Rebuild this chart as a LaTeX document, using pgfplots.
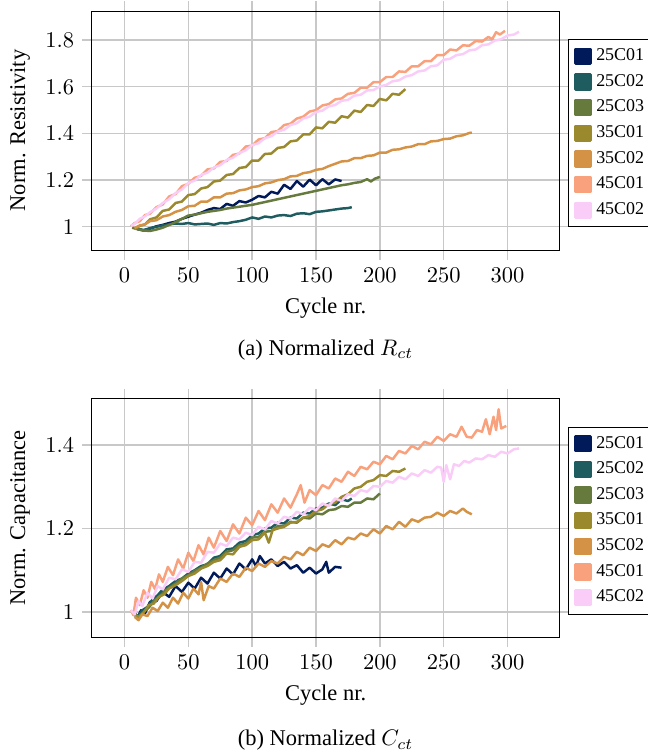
\documentclass[border=0pt]{standalone}
\usepackage{fontspec}
\setmainfont{Liberation Serif}
\usepackage{pgfplots}
\pgfplotsset{compat=1.18}

\definecolor{cA}{RGB}{1,27,90}
\definecolor{cB}{RGB}{30,92,96}
\definecolor{cC}{RGB}{102,122,62}
\definecolor{cD}{RGB}{155,137,46}
\definecolor{cE}{RGB}{212,146,70}
\definecolor{cF}{RGB}{249,161,124}
\definecolor{cG}{RGB}{249,205,248}
\definecolor{gridc}{RGB}{200,200,200}

\pgfplotsset{
  cyc/.style={
    scale only axis, width=208pt, height=106.4pt,
    xmin=-25.5, xmax=340.5,
    xtick={0,50,100,150,200,250,300},
    grid=major, major grid style={gridc, line width=0.6pt},
    tick align=outside, major tick length=4.4pt,
    major tick style={gridc, line width=0.6pt},
    xlabel={Cycle nr.},
    legend style={at={(1.019,0.882)}, anchor=north west, font=\footnotesize,
      draw=black, fill=white, row sep=0.6pt, inner xsep=2.5pt},
    legend cell align=left,
    legend image code/.code={\fill[##1] (0pt,-3.3pt) rectangle (6.7pt,3.3pt);},
    every axis plot/.append style={line width=1.1pt, line join=round, mark=none},
  }
}

\begin{document}
\begin{tikzpicture}
\begin{axis}[cyc, name=top, at={(0,0)}, anchor=north west,
  ymin=0.9, ymax=1.925, ytick={1,1.2,1.4,1.6,1.8},
  ylabel={Norm. Resistivity}]
\addplot[color=cA] coordinates {(10,0.990)(15,0.984)(20,0.992)(25,1.002)(30,1.008)(35,1.016)(40,1.022)(45,1.034)(50,1.043)(55,1.052)(60,1.060)(65,1.072)(70,1.080)(75,1.076)(80,1.098)(85,1.090)(90,1.110)(95,1.104)(100,1.116)(105,1.132)(110,1.126)(115,1.150)(120,1.142)(125,1.180)(130,1.162)(135,1.196)(140,1.172)(145,1.202)(150,1.178)(155,1.204)(160,1.182)(165,1.203)(170,1.196)};
\addlegendentry{25C01}
\addplot[color=cB] coordinates {(10,0.992)(15,0.986)(20,0.994)(25,1.000)(30,1.006)(35,1.010)(40,1.014)(45,1.012)(50,1.016)(55,1.010)(60,1.012)(65,1.014)(70,1.008)(75,1.016)(80,1.014)(85,1.020)(90,1.024)(95,1.030)(100,1.040)(105,1.034)(110,1.044)(115,1.040)(120,1.048)(125,1.050)(130,1.046)(135,1.056)(140,1.058)(145,1.054)(150,1.064)(155,1.066)(160,1.070)(165,1.074)(170,1.078)(175,1.080)(178,1.084)};
\addlegendentry{25C02}
\addplot[color=cC] coordinates {(6,0.996)(10,0.990)(15,0.984)(20,0.982)(25,0.988)(30,0.996)(35,1.008)(40,1.020)(45,1.034)(50,1.048)(55,1.052)(60,1.058)(65,1.064)(70,1.068)(75,1.072)(80,1.078)(85,1.082)(90,1.086)(95,1.090)(100,1.094)(105,1.100)(110,1.106)(115,1.112)(120,1.118)(125,1.124)(130,1.130)(135,1.136)(140,1.142)(145,1.148)(150,1.154)(155,1.160)(160,1.166)(165,1.172)(170,1.178)(175,1.182)(180,1.188)(185,1.192)(190,1.204)(193,1.194)(196,1.206)(200,1.214)};
\addlegendentry{25C03}
\addplot[color=cD] coordinates {(8,0.990)(12,1.004)(16,1.010)(20,1.032)(25,1.040)(30,1.068)(35,1.074)(40,1.102)(45,1.108)(50,1.136)(55,1.140)(60,1.164)(65,1.170)(70,1.194)(75,1.198)(80,1.222)(85,1.226)(90,1.252)(95,1.256)(100,1.284)(105,1.284)(110,1.312)(115,1.314)(120,1.338)(125,1.342)(130,1.366)(135,1.370)(140,1.396)(145,1.396)(150,1.426)(155,1.422)(160,1.450)(165,1.446)(170,1.474)(175,1.468)(180,1.498)(185,1.492)(190,1.522)(195,1.518)(200,1.548)(205,1.542)(210,1.570)(215,1.566)(220,1.590)};
\addlegendentry{35C01}
\addplot[color=cE] coordinates {(8,0.995)(12,1.006)(16,1.010)(20,1.024)(25,1.028)(30,1.044)(35,1.050)(40,1.064)(45,1.072)(50,1.088)(55,1.090)(60,1.108)(65,1.108)(70,1.126)(75,1.126)(80,1.142)(85,1.144)(90,1.156)(95,1.160)(100,1.170)(105,1.174)(110,1.186)(115,1.190)(120,1.200)(125,1.204)(130,1.216)(135,1.218)(140,1.230)(145,1.234)(150,1.244)(155,1.248)(160,1.260)(165,1.270)(170,1.280)(175,1.282)(180,1.294)(185,1.294)(190,1.304)(195,1.306)(200,1.318)(205,1.318)(210,1.330)(215,1.332)(220,1.340)(225,1.344)(230,1.354)(235,1.354)(240,1.366)(245,1.368)(250,1.376)(255,1.378)(260,1.388)(265,1.392)(270,1.402)(272,1.404)};
\addlegendentry{35C02}
\addplot[color=cF] coordinates {(5,1.002)(8,1.016)(12,1.024)(16,1.050)(20,1.056)(25,1.084)(30,1.096)(35,1.130)(40,1.140)(45,1.174)(50,1.184)(55,1.210)(60,1.218)(65,1.246)(70,1.250)(75,1.278)(80,1.282)(85,1.308)(90,1.314)(95,1.344)(100,1.348)(105,1.374)(110,1.380)(115,1.406)(120,1.410)(125,1.436)(130,1.442)(135,1.464)(140,1.472)(145,1.494)(150,1.500)(155,1.520)(160,1.526)(165,1.546)(170,1.550)(175,1.570)(180,1.574)(185,1.596)(190,1.596)(195,1.620)(200,1.620)(205,1.642)(210,1.642)(215,1.666)(220,1.664)(225,1.688)(230,1.688)(235,1.710)(240,1.710)(245,1.736)(250,1.736)(255,1.760)(260,1.756)(265,1.778)(270,1.776)(275,1.796)(280,1.794)(285,1.814)(288,1.804)(291,1.834)(294,1.824)(298,1.840)};
\addlegendentry{45C01}
\addplot[color=cG] coordinates {(5,1.004)(8,1.012)(12,1.034)(16,1.044)(20,1.062)(25,1.078)(30,1.102)(35,1.118)(40,1.144)(45,1.160)(50,1.188)(55,1.198)(60,1.222)(65,1.232)(70,1.254)(75,1.264)(80,1.286)(85,1.296)(90,1.316)(95,1.328)(100,1.350)(105,1.358)(110,1.380)(115,1.388)(120,1.408)(125,1.416)(130,1.436)(135,1.444)(140,1.464)(145,1.472)(150,1.492)(155,1.498)(160,1.516)(165,1.522)(170,1.540)(175,1.544)(180,1.562)(185,1.566)(190,1.584)(195,1.586)(200,1.602)(205,1.608)(210,1.624)(215,1.628)(220,1.644)(225,1.650)(230,1.666)(235,1.670)(240,1.688)(245,1.692)(250,1.716)(255,1.720)(260,1.736)(265,1.740)(270,1.756)(275,1.760)(280,1.778)(285,1.782)(290,1.798)(295,1.804)(300,1.820)(305,1.824)(309,1.836)};
\addlegendentry{45C02}
\end{axis}
\node[yshift=-44.4pt] at (top.south) {(a) Normalized $R_{ct}$};

\begin{axis}[cyc, name=bot, at={(0,-172.4pt)}, anchor=north west,
  ymin=0.9386, ymax=1.512, ytick={1,1.2,1.4},
  ylabel={Norm. Capacitance}]
\addplot[color=cA] coordinates {(8,0.995)(10,0.985)(13,1.004)(16,0.996)(20,1.024)(25,1.026)(30,1.048)(35,1.036)(40,1.062)(45,1.048)(50,1.070)(55,1.056)(60,1.082)(65,1.068)(70,1.094)(75,1.080)(80,1.104)(85,1.090)(90,1.116)(95,1.102)(100,1.126)(103,1.110)(106,1.134)(110,1.116)(115,1.126)(120,1.110)(125,1.120)(130,1.104)(135,1.112)(140,1.094)(145,1.106)(150,1.092)(155,1.102)(158,1.120)(160,1.094)(165,1.108)(170,1.106)};
\addlegendentry{25C01}
\addplot[color=cB] coordinates {(8,0.998)(10,0.988)(14,1.004)(18,1.012)(22,1.030)(26,1.040)(30,1.054)(35,1.062)(40,1.074)(45,1.080)(50,1.092)(55,1.100)(60,1.110)(65,1.114)(70,1.130)(75,1.134)(80,1.150)(85,1.152)(90,1.166)(95,1.170)(100,1.184)(105,1.188)(110,1.200)(115,1.202)(120,1.214)(125,1.212)(130,1.226)(135,1.224)(140,1.238)(145,1.236)(150,1.248)(155,1.250)(160,1.260)(165,1.256)(170,1.270)(175,1.266)(178,1.272)};
\addlegendentry{25C02}
\addplot[color=cC] coordinates {(8,0.996)(11,0.986)(15,1.000)(19,1.010)(23,1.026)(27,1.036)(31,1.048)(35,1.058)(40,1.068)(45,1.080)(50,1.088)(55,1.098)(60,1.106)(65,1.116)(70,1.124)(75,1.130)(80,1.144)(85,1.148)(90,1.160)(95,1.164)(100,1.178)(105,1.180)(110,1.192)(115,1.194)(120,1.206)(125,1.206)(130,1.216)(135,1.214)(140,1.226)(145,1.224)(150,1.236)(155,1.234)(160,1.244)(165,1.246)(170,1.254)(175,1.252)(180,1.262)(185,1.262)(190,1.272)(195,1.270)(200,1.284)};
\addlegendentry{25C03}
\addplot[color=cD] coordinates {(8,0.992)(11,0.988)(15,0.998)(19,1.016)(23,1.020)(27,1.036)(31,1.042)(35,1.056)(40,1.064)(45,1.074)(50,1.086)(55,1.092)(60,1.104)(65,1.110)(70,1.120)(75,1.124)(80,1.140)(85,1.138)(90,1.156)(95,1.160)(100,1.172)(105,1.174)(110,1.190)(113,1.166)(116,1.196)(120,1.200)(125,1.204)(130,1.214)(135,1.216)(140,1.226)(145,1.230)(150,1.242)(155,1.246)(160,1.258)(165,1.262)(170,1.276)(175,1.282)(180,1.296)(185,1.300)(190,1.312)(195,1.316)(200,1.328)(205,1.326)(210,1.338)(215,1.336)(220,1.344)};
\addlegendentry{35C01}
\addplot[color=cE] coordinates {(8,0.988)(11,0.980)(14,0.994)(18,0.990)(22,1.010)(26,1.002)(30,1.022)(34,1.010)(38,1.034)(42,1.020)(46,1.046)(50,1.032)(54,1.056)(58,1.042)(60,1.072)(62,1.028)(66,1.062)(70,1.056)(75,1.080)(80,1.072)(85,1.092)(90,1.084)(95,1.106)(100,1.098)(105,1.116)(110,1.108)(115,1.122)(120,1.116)(125,1.132)(130,1.126)(135,1.144)(140,1.136)(145,1.154)(150,1.146)(155,1.162)(160,1.156)(165,1.172)(170,1.162)(175,1.178)(180,1.174)(185,1.188)(190,1.182)(195,1.198)(200,1.188)(205,1.206)(210,1.198)(215,1.216)(220,1.204)(225,1.222)(230,1.216)(235,1.226)(240,1.228)(245,1.238)(250,1.230)(255,1.242)(260,1.236)(265,1.248)(268,1.240)(272,1.234)};
\addlegendentry{35C02}
\addplot[color=cF] coordinates {(5,1.004)(7,0.992)(9,1.034)(12,1.016)(15,1.052)(18,1.034)(21,1.072)(24,1.054)(27,1.090)(30,1.072)(34,1.108)(38,1.088)(42,1.126)(46,1.104)(50,1.142)(54,1.122)(58,1.160)(62,1.138)(66,1.178)(70,1.154)(75,1.194)(80,1.170)(85,1.210)(90,1.188)(95,1.226)(100,1.208)(105,1.242)(110,1.220)(115,1.258)(120,1.238)(125,1.272)(130,1.250)(135,1.282)(138,1.304)(141,1.262)(145,1.292)(150,1.280)(155,1.304)(160,1.296)(165,1.320)(170,1.312)(175,1.336)(180,1.326)(185,1.348)(190,1.342)(195,1.360)(200,1.354)(205,1.374)(210,1.366)(215,1.386)(220,1.380)(225,1.398)(230,1.390)(235,1.408)(240,1.402)(245,1.420)(250,1.410)(255,1.426)(260,1.420)(264,1.444)(268,1.420)(272,1.418)(276,1.436)(280,1.432)(283,1.462)(286,1.426)(289,1.468)(291,1.436)(293,1.486)(295,1.440)(299,1.446)};
\addlegendentry{45C01}
\addplot[color=cG] coordinates {(5,1.004)(8,0.994)(11,1.026)(14,1.014)(18,1.046)(22,1.032)(26,1.062)(30,1.054)(35,1.082)(40,1.078)(45,1.102)(50,1.096)(55,1.120)(60,1.118)(65,1.144)(70,1.142)(75,1.164)(80,1.158)(85,1.178)(90,1.174)(95,1.190)(100,1.184)(105,1.204)(110,1.198)(115,1.218)(120,1.212)(125,1.228)(130,1.224)(135,1.240)(140,1.234)(145,1.250)(150,1.244)(155,1.260)(160,1.254)(165,1.272)(170,1.266)(175,1.282)(180,1.278)(185,1.292)(190,1.288)(195,1.302)(200,1.300)(205,1.314)(210,1.310)(215,1.324)(220,1.318)(225,1.332)(230,1.326)(235,1.340)(240,1.334)(245,1.348)(248,1.346)(250,1.312)(252,1.352)(255,1.318)(258,1.354)(262,1.350)(266,1.362)(270,1.358)(275,1.368)(280,1.366)(285,1.376)(290,1.372)(295,1.384)(300,1.380)(305,1.390)(309,1.392)};
\addlegendentry{45C02}
\end{axis}
\node[yshift=-45.8pt] at (bot.south) {(b) Normalized $C_{ct}$};

\pgfresetboundingbox
\path[use as bounding box] (-40.9pt,4.9pt) rectangle (247.1pt,-331.1pt);
\end{tikzpicture}
\end{document}
